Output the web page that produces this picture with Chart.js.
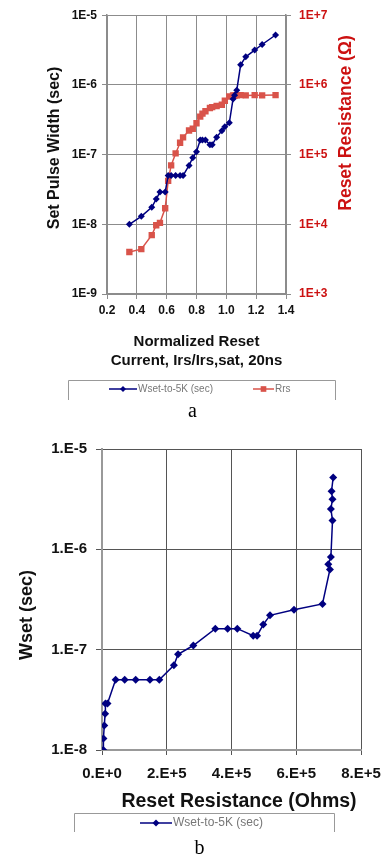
<!DOCTYPE html>
<html>
<head>
<meta charset="utf-8">
<script src="https://cdn.jsdelivr.net/npm/chart.js@4"></script>
<style>
  body { margin: 0; background: #fff; width: 385px; height: 857px; position: relative; overflow: hidden; }
  canvas { position: absolute; left: 0; }
  #chartA { top: 0; }
  #chartB { top: 430px; }
  .caption { position: absolute; width: 385px; text-align: center; font-family: "Liberation Serif", serif; font-size: 20px; color: #000; }
</style>
</head>
<body>
<canvas id="chartA" width="385" height="400" style="width:385px;height:400px"></canvas>
<div class="caption" style="top: 399px;">a</div>
<canvas id="chartB" width="385" height="427" style="width:385px;height:427px"></canvas>
<div class="caption" style="top: 836px; left: 7px;">b</div>
<script>
// reset current sweep, normalized (Irs/Irs,sat, 20ns pulses)
var current = [0.35, 0.43, 0.50, 0.53, 0.555, 0.59, 0.61, 0.63, 0.66, 0.69, 0.71,
  0.75, 0.775, 0.80, 0.825, 0.84, 0.86, 0.89, 0.905, 0.935, 0.97, 0.99, 1.02,
  1.045, 1.055, 1.07, 1.096, 1.13, 1.19, 1.24, 1.33];

// set pulse width needed to get back to 5K (sec)
var wset = [1.0e-8, 1.3e-8, 1.75e-8, 2.3e-8, 2.9e-8, 2.9e-8, 5.0e-8, 5.0e-8, 5.0e-8,
  5.0e-8, 5.0e-8, 7.0e-8, 9.0e-8, 1.1e-7, 1.62e-7, 1.62e-7, 1.62e-7, 1.38e-7,
  1.38e-7, 1.78e-7, 2.2e-7, 2.5e-7, 2.86e-7, 6.3e-7, 7.1e-7, 8.4e-7, 1.94e-6,
  2.53e-6, 3.16e-6, 3.8e-6, 5.2e-6];

// reset resistance (ohms)
var rrs = [4.0e3, 4.4e3, 7.0e3, 9.7e3, 1.05e4, 1.7e4, 4.2e4, 7.0e4, 1.04e5, 1.48e5,
  1.77e5, 2.22e5, 2.35e5, 2.82e5, 3.5e5, 3.88e5, 4.18e5, 4.67e5, 4.79e5, 4.98e5,
  5.19e5, 5.93e5, 6.81e5, 7.04e5, 6.99e5, 7.07e5, 7.12e5, 7.07e5, 7.12e5, 7.09e5,
  7.14e5];

// tick values / labels
var aXTicks = [0.2, 0.4, 0.6, 0.8, 1.0, 1.2, 1.4];
var aXTickLabels = ["0.2", "0.4", "0.6", "0.8", "1.0", "1.2", "1.4"];
var aLeftTicks = [1e-9, 1e-8, 1e-7, 1e-6, 1e-5];
var aLeftTickLabels = ["1E-9", "1E-8", "1E-7", "1E-6", "1E-5"];
var aRightTicks = [1e3, 1e4, 1e5, 1e6, 1e7];
var aRightTickLabels = ["1E+3", "1E+4", "1E+5", "1E+6", "1E+7"];
var bXTicks = [0, 2e5, 4e5, 6e5, 8e5];
var bXTickLabels = ["0.E+0", "2.E+5", "4.E+5", "6.E+5", "8.E+5"];
var bYTicks = [1e-8, 1e-7, 1e-6, 1e-5];
var bYTickLabels = ["1.E-8", "1.E-7", "1.E-6", "1.E-5"];

var NAVY = "#000080";
var RED = "#d9534a";
var RED_TEXT = "#cc1111";
var GRID = "#8c8c8c";

Chart.defaults.font.family = '"Liberation Sans", Arial, sans-serif';
Chart.defaults.color = "#111";

function fixTicks(values) {
  return function (scale) {
    scale.ticks = values.map(function (v) { return { value: v }; });
  };
}

function vTitle(ctx, text, x, y, font, color) {
  ctx.save();
  ctx.translate(x, y);
  ctx.rotate(-Math.PI / 2);
  ctx.font = font;
  ctx.fillStyle = color;
  ctx.textAlign = "center";
  ctx.textBaseline = "middle";
  ctx.fillText(text, 0, 0);
  ctx.restore();
}

// excel style legend: open box with line+marker samples
function drawLegend(chart, box, items, fontSize) {
  var ctx = chart.ctx;
  ctx.save();
  ctx.strokeStyle = "#999";
  ctx.lineWidth = 1;
  ctx.beginPath();
  ctx.moveTo(box.left + 0.5, box.bottom);
  ctx.lineTo(box.left + 0.5, box.top + 0.5);
  ctx.lineTo(box.right + 0.5, box.top + 0.5);
  ctx.lineTo(box.right + 0.5, box.bottom);
  ctx.stroke();
  items.forEach(function (it) {
    var ds = chart.data.datasets[it.index];
    ctx.strokeStyle = ds.borderColor;
    ctx.lineWidth = 1.5;
    ctx.beginPath();
    ctx.moveTo(it.x, it.y);
    ctx.lineTo(it.x + it.w, it.y);
    ctx.stroke();
    ctx.fillStyle = ds.backgroundColor;
    Chart.helpers.drawPoint(ctx, { pointStyle: ds.pointStyle, radius: ds.pointRadius - 0.5, rotation: 0, borderWidth: 0 }, it.x + it.w / 2, it.y);
    ctx.fillStyle = "#777";
    ctx.font = fontSize + 'px "Liberation Sans", Arial, sans-serif';
    ctx.textAlign = "left";
    ctx.textBaseline = "middle";
    ctx.fillText(ds.label, it.x + it.w + 1, it.y);
  });
  ctx.restore();
}

// ---------------- chart a ----------------
var ctxA = document.getElementById("chartA").getContext("2d");

var chartA = new Chart(ctxA, {
  type: "line",
  data: {
    datasets: [
      {
        label: "Wset-to-5K (sec)",
        data: current.map(function (c, i) { return { x: c, y: wset[i] }; }),
        yAxisID: "y",
        borderColor: NAVY,
        backgroundColor: NAVY,
        borderWidth: 1.5,
        pointStyle: "rectRot",
        pointRadius: 3.5,
        pointBorderWidth: 0,
      },
      {
        label: "Rrs",
        data: current.map(function (c, i) { return { x: c, y: rrs[i] }; }),
        yAxisID: "y1",
        borderColor: RED,
        backgroundColor: RED,
        borderWidth: 1.5,
        pointStyle: "rect",
        pointRadius: 4.5,
        pointBorderWidth: 0,
      },
    ],
  },
  options: {
    responsive: false,
    animation: false,
    layout: { padding: { top: 14 } },
    plugins: {
      legend: { display: false },
      tooltip: { enabled: false },
    },
    scales: {
      x: {
        type: "linear",
        min: 0.2,
        max: 1.4,
        afterBuildTicks: fixTicks(aXTicks),
        afterFit: function (s) { s.height = 106; },
        ticks: {
          autoSkip: false,
          maxRotation: 0,
          padding: 4,
          font: { size: 12, weight: "bold" },
          callback: function (v, i) { return aXTickLabels[i]; },
        },
        grid: { color: GRID, lineWidth: 1, tickLength: 5 },
        border: { color: GRID, width: 1.5 },
        title: {
          display: true,
          text: ["Normalized Reset", "Current, Irs/Irs,sat, 20ns"],
          font: { size: 15, weight: "bold", lineHeight: 1.27 },
          color: "#111",
          padding: { top: 0, bottom: 30 },
        },
      },
      y: {
        type: "logarithmic",
        position: "left",
        min: 1e-9,
        max: 1e-5,
        afterBuildTicks: fixTicks(aLeftTicks),
        afterFit: function (s) { s.width = 107; },
        ticks: {
          autoSkip: false,
          padding: 5,
          font: { size: 12, weight: "bold" },
          callback: function (v, i) { return aLeftTickLabels[i]; },
        },
        grid: { color: GRID, lineWidth: 1, tickLength: 5 },
        border: { color: GRID, width: 1.5 },
      },
      y1: {
        type: "logarithmic",
        position: "right",
        min: 1e3,
        max: 1e7,
        afterBuildTicks: fixTicks(aRightTicks),
        afterFit: function (s) { s.width = 99; },
        ticks: {
          autoSkip: false,
          padding: 8,
          color: RED_TEXT,
          font: { size: 12, weight: "bold" },
          callback: function (v, i) { return aRightTickLabels[i]; },
        },
        grid: { drawOnChartArea: false, color: GRID, tickLength: 5 },
        border: { color: GRID, width: 1.5 },
      },
    },
  },
  plugins: [
    {
      id: "titlesAndLegendA",
      afterDraw: function (chart) {
        var ctx = chart.ctx;
        vTitle(ctx, "Set Pulse Width (sec)", 55, 148, 'bold 16px "Liberation Sans", Arial, sans-serif', "#111");
        vTitle(ctx, "Reset Resistance (\u03A9)", 346, 123, 'bold 17.5px "Liberation Sans", Arial, sans-serif', RED_TEXT);
        drawLegend(chart, { left: 68, right: 335, top: 380, bottom: 400 },
          [{ index: 0, x: 109, y: 389, w: 28 }, { index: 1, x: 253, y: 389, w: 21 }], 10);
      },
    },
  ],
});

// ---------------- chart b ----------------
var ctxB = document.getElementById("chartB").getContext("2d");

var chartB = new Chart(ctxB, {
  type: "line",
  data: {
    datasets: [
      {
        label: "Wset-to-5K (sec)",
        data: rrs.map(function (r, i) { return { x: r, y: wset[i] }; }),
        borderColor: NAVY,
        backgroundColor: NAVY,
        borderWidth: 1.5,
        pointStyle: "rectRot",
        pointRadius: 4,
        pointBorderWidth: 0,
      },
    ],
  },
  options: {
    responsive: false,
    animation: false,
    layout: { padding: { top: 19, right: 24 } },
    plugins: {
      legend: { display: false },
      tooltip: { enabled: false },
    },
    scales: {
      x: {
        type: "linear",
        min: 0,
        max: 8e5,
        afterBuildTicks: fixTicks(bXTicks),
        afterFit: function (s) {
          s.height = 107;
          // last label may hang past the plot edge
          s.paddingRight = 0;
        },
        ticks: {
          autoSkip: false,
          maxRotation: 0,
          padding: 10,
          font: { size: 15, weight: "bold" },
          callback: function (v, i) { return bXTickLabels[i]; },
        },
        grid: { color: "#555", lineWidth: 1, tickLength: 5 },
        border: { color: "#999", width: 2 },
      },
      y: {
        type: "logarithmic",
        min: 1e-8,
        max: 1e-5,
        afterBuildTicks: fixTicks(bYTicks),
        afterFit: function (s) { s.width = 102; },
        ticks: {
          autoSkip: false,
          padding: 9,
          font: { size: 15, weight: "bold" },
          callback: function (v, i) { return bYTickLabels[i]; },
        },
        grid: { color: "#555", lineWidth: 1, tickLength: 6 },
        border: { color: "#999", width: 2 },
      },
    },
  },
  plugins: [
    {
      id: "titlesAndLegendB",
      afterDraw: function (chart) {
        var ctx = chart.ctx;
        vTitle(ctx, "Wset (sec)", 27, 185, 'bold 18px "Liberation Sans", Arial, sans-serif', "#111");
        ctx.save();
        ctx.font = 'bold 19.5px "Liberation Sans", Arial, sans-serif';
        ctx.fillStyle = "#111";
        ctx.textAlign = "center";
        ctx.textBaseline = "middle";
        ctx.fillText("Reset Resistance (Ohms)", 239, 372);
        ctx.restore();
        drawLegend(chart, { left: 74, right: 334, top: 383, bottom: 402 },
          [{ index: 0, x: 140, y: 393, w: 32 }], 12);
      },
    },
  ],
});
</script>
</body>
</html>
